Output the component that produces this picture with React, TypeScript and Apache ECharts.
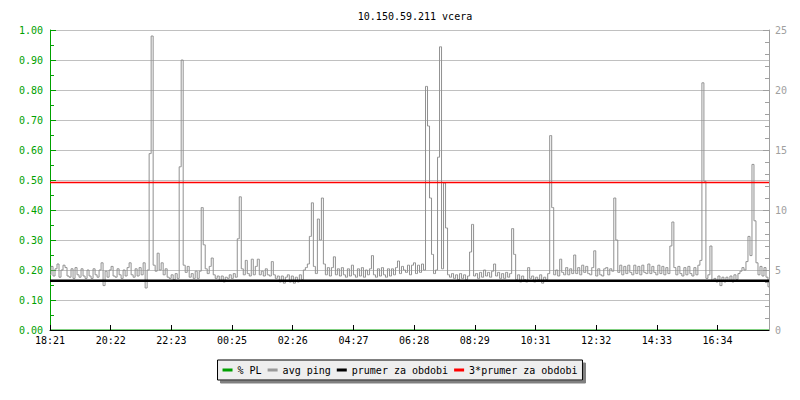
import React, { useEffect, useRef } from "react";
import * as echarts from "echarts";

const TITLE = "10.150.59.211 vcera";
const TICK_LABELS = ["18:21", "20:22", "22:23", "00:25", "02:26", "04:27", "06:28", "08:29", "10:31", "12:32", "14:33", "16:34"];
const TICK_STEP = 121.2; // minutes between labelled ticks
const X_MAX = 1436; // minutes shown
const SAMPLE_MINUTES = 4;

const SERIES_NAMES = ["% PL", "avg ping", "prumer za obdobi", "3*prumer za obdobi"];

// packet loss (%), left axis
const PL_TIMES = [0, 1436];
const PL_VALUES = [0, 0];

// average ping (ms), right axis, one value every 4 minutes from 18:21
const AVG_PING = [
  4.6, 5.3, 4.5, 5.1, 5.5, 4.4, 5.0, 5.4, 5.2, 4.5,
  4.4, 5.1, 4.3, 5.2, 4.6, 4.4, 5.1, 4.5, 4.3, 5.0,
  4.5, 4.3, 5.1, 4.6, 4.4, 5.0, 5.6, 3.7, 4.9, 4.4,
  5.0, 5.3, 4.5, 4.4, 5.1, 4.6, 4.3, 5.0, 4.5, 5.2,
  5.6, 4.6, 4.4, 5.1, 4.5, 5.2, 4.6, 5.6, 3.5, 5.0,
  14.7, 24.5, 5.4, 4.9, 6.4, 5.0, 5.6, 4.6, 5.1, 4.4,
  4.3, 4.6, 4.2, 4.7, 4.3, 13.6, 22.5, 5.4, 4.8, 5.3,
  4.4, 4.7, 4.3, 4.9, 4.3, 4.9, 10.2, 7.1, 5.1, 4.7,
  5.3, 6.0, 4.6, 4.3, 4.5, 4.1, 4.5, 4.0, 4.4, 4.3,
  4.6, 4.3, 4.7, 4.4, 7.6, 11.1, 5.1, 4.6, 5.8, 4.7,
  4.5, 5.9, 4.6, 5.3, 5.9, 4.6, 4.9, 4.5, 5.1, 4.6,
  4.5, 5.7, 4.6, 4.3, 4.5, 4.0, 4.5, 3.9, 4.4, 4.6,
  4.0, 4.5, 3.9, 4.4, 4.0, 4.6, 4.2, 5.0, 5.2, 5.5,
  7.8, 10.6, 5.3, 4.7, 9.25, 7.5, 11.0, 5.5, 4.6, 5.2,
  4.5, 5.2, 6.1, 4.6, 5.1, 4.5, 5.2, 4.6, 4.4, 5.1,
  4.5, 5.4, 4.6, 4.4, 5.1, 4.5, 5.2, 4.4, 5.0, 4.6,
  5.1, 6.2, 4.6, 4.4, 5.1, 4.5, 5.2, 4.6, 4.4, 5.1,
  4.5, 5.1, 4.6, 5.2, 5.75, 4.7, 5.3, 5.0, 4.8, 5.4,
  4.6, 5.4, 5.6, 4.7, 5.4, 4.8, 5.5, 5.0, 20.3, 17.0,
  11.0, 6.3, 4.7, 5.0, 14.4, 23.6, 5.1, 12.25, 8.5, 4.6,
  4.4, 4.7, 4.3, 4.6, 4.2, 4.7, 4.3, 4.6, 4.2, 4.5,
  6.5, 8.8, 4.5, 4.7, 4.3, 4.8, 4.4, 5.0, 4.5, 4.8,
  4.4, 4.9, 5.5, 4.5, 4.8, 4.3, 4.7, 4.3, 4.8, 4.4,
  4.7, 8.45, 6.3, 4.2, 4.6, 4.0, 4.5, 4.2, 4.0, 5.2,
  4.3, 4.5, 4.0, 4.4, 4.2, 4.6, 3.9, 4.4, 4.2, 4.7,
  16.2, 10.2, 4.6, 5.0, 4.5, 5.9, 4.8, 4.6, 5.2, 4.6,
  5.1, 4.7, 6.25, 4.7, 5.2, 4.6, 5.4, 4.8, 5.3, 4.7,
  4.6, 5.2, 6.6, 4.5, 5.1, 4.6, 4.5, 5.1, 5.2, 4.6,
  5.1, 4.9, 11.0, 7.5, 4.8, 5.4, 4.6, 5.3, 4.7, 5.4,
  4.8, 4.6, 5.4, 4.7, 5.3, 4.6, 5.4, 4.8, 4.7, 5.5,
  4.7, 5.3, 4.8, 4.6, 5.4, 4.7, 5.3, 4.6, 5.2, 4.7,
  7.0, 9.0, 5.2, 4.6, 5.3, 4.7, 4.5, 5.2, 4.6, 5.3,
  4.7, 4.5, 5.2, 4.6, 5.4, 5.8, 20.6, 12.4, 4.3, 4.6,
  7.0, 4.1, 4.3, 4.0, 4.5, 3.7, 4.4, 4.0, 4.4, 4.1,
  4.5, 4.0, 4.6, 4.2, 4.7, 4.9, 5.2, 5.0, 5.7, 7.8,
  6.2, 13.8, 9.1, 5.6, 4.6, 5.3, 4.5, 5.2, 4.4, 3.6,
];

const MEAN_PING = 4.1;
const TRIPLE_MEAN_PING = 12.3;

const FONT = "DejaVu Sans Mono";
const GREEN = "#00a000";
const GREY = "#a0a0a0";
const PING_GREY = "#909090";

export default function App() {
  const ref = useRef<HTMLDivElement>(null);

  useEffect(() => {
    if (!ref.current) return;
    const chart = echarts.init(ref.current, undefined, { renderer: "svg" });

    const pingData = AVG_PING.map((v, i) => [i * SAMPLE_MINUTES, v]);
    const plData = PL_TIMES.map((t, i) => [t, PL_VALUES[i]]);

    chart.setOption({
      animation: false,
      backgroundColor: "#ffffff",
      textStyle: { fontFamily: FONT, fontSize: 10 },
      title: {
        text: TITLE,
        left: 410,
        textAlign: "center",
        top: 6,
        textStyle: { fontFamily: FONT, fontSize: 10, fontWeight: "normal", color: "#000" },
      },
      legend: {
        data: SERIES_NAMES,
        left: "center",
        top: 360,
        icon: "rect",
        itemWidth: 10,
        itemHeight: 3,
        itemGap: 6,
        padding: [5, 5],
        backgroundColor: "#eeeeee",
        borderColor: "#000",
        borderWidth: 1,
        borderRadius: 0,
        shadowColor: "#808080",
        shadowBlur: 0,
        shadowOffsetX: 3,
        shadowOffsetY: 3,
        textStyle: { fontFamily: FONT, fontSize: 10, color: "#000" },
      },
      grid: { left: 50, right: 31, top: 30, bottom: 70, containLabel: false },
      xAxis: {
        type: "value",
        min: 0,
        max: X_MAX,
        interval: TICK_STEP,
        z: 5,
        axisLine: { show: true, lineStyle: { color: "#000", width: 1 } },
        axisTick: { show: true, inside: true, length: 5, lineStyle: { color: "#000" } },
        splitLine: { show: false },
        axisLabel: {
          color: "#000",
          fontFamily: FONT,
          fontSize: 10,
          margin: 5,
          showMaxLabel: false,
          formatter: (v: number) => {
            const idx = Math.round(v / TICK_STEP);
            return TICK_LABELS[idx] ?? "";
          },
        },
      },
      yAxis: [
        {
          type: "value",
          position: "left",
          min: 0,
          max: 1,
          interval: 0.1,
          axisLine: { show: true, lineStyle: { color: GREEN, width: 1 } },
          axisTick: { show: true, inside: true, length: 6, lineStyle: { color: GREEN } },
          minorTick: { show: true, splitNumber: 2, length: 4, lineStyle: { color: GREEN } },
          splitLine: { show: true, lineStyle: { color: "#c0c0c0", width: 1 } },
          axisLabel: {
            color: GREEN,
            fontFamily: FONT,
            fontSize: 10,
            margin: 7,
            formatter: (v: number) => v.toFixed(2),
          },
        },
        {
          type: "value",
          position: "right",
          min: 0,
          max: 25,
          interval: 5,
          axisLine: { show: true, lineStyle: { color: GREY, width: 1 } },
          axisTick: { show: true, inside: true, length: 6, lineStyle: { color: GREY } },
          minorTick: { show: true, splitNumber: 5, length: 4, lineStyle: { color: GREY } },
          splitLine: { show: false },
          axisLabel: { color: GREY, fontFamily: FONT, fontSize: 10, margin: 6 },
        },
      ],
      series: [
        {
          name: SERIES_NAMES[0],
          type: "line",
          yAxisIndex: 0,
          data: plData,
          showSymbol: false,
          symbol: "none",
          z: 1,
          color: GREEN,
          lineStyle: { color: GREEN, width: 1 },
        },
        {
          name: SERIES_NAMES[1],
          type: "line",
          yAxisIndex: 1,
          data: pingData,
          step: "middle",
          showSymbol: false,
          symbol: "none",
          color: "#999999",
          lineStyle: { color: PING_GREY, width: 1 },
        },
        {
          name: SERIES_NAMES[2],
          type: "line",
          yAxisIndex: 1,
          data: [[0, MEAN_PING], [X_MAX, MEAN_PING]],
          showSymbol: false,
          symbol: "none",
          color: "#000",
          lineStyle: { color: "#000", width: 2.5 },
        },
        {
          name: SERIES_NAMES[3],
          type: "line",
          yAxisIndex: 1,
          data: [[0, TRIPLE_MEAN_PING], [X_MAX, TRIPLE_MEAN_PING]],
          showSymbol: false,
          symbol: "none",
          color: "#ff0000",
          lineStyle: { color: "#ff0000", width: 1.5 },
        },
      ],
    });

    return () => chart.dispose();
  }, []);

  return (
    <div
      ref={ref}
      style={{ position: "fixed", left: 0, top: 0, width: 800, height: 400, background: "#fff" }}
    />
  );
}
